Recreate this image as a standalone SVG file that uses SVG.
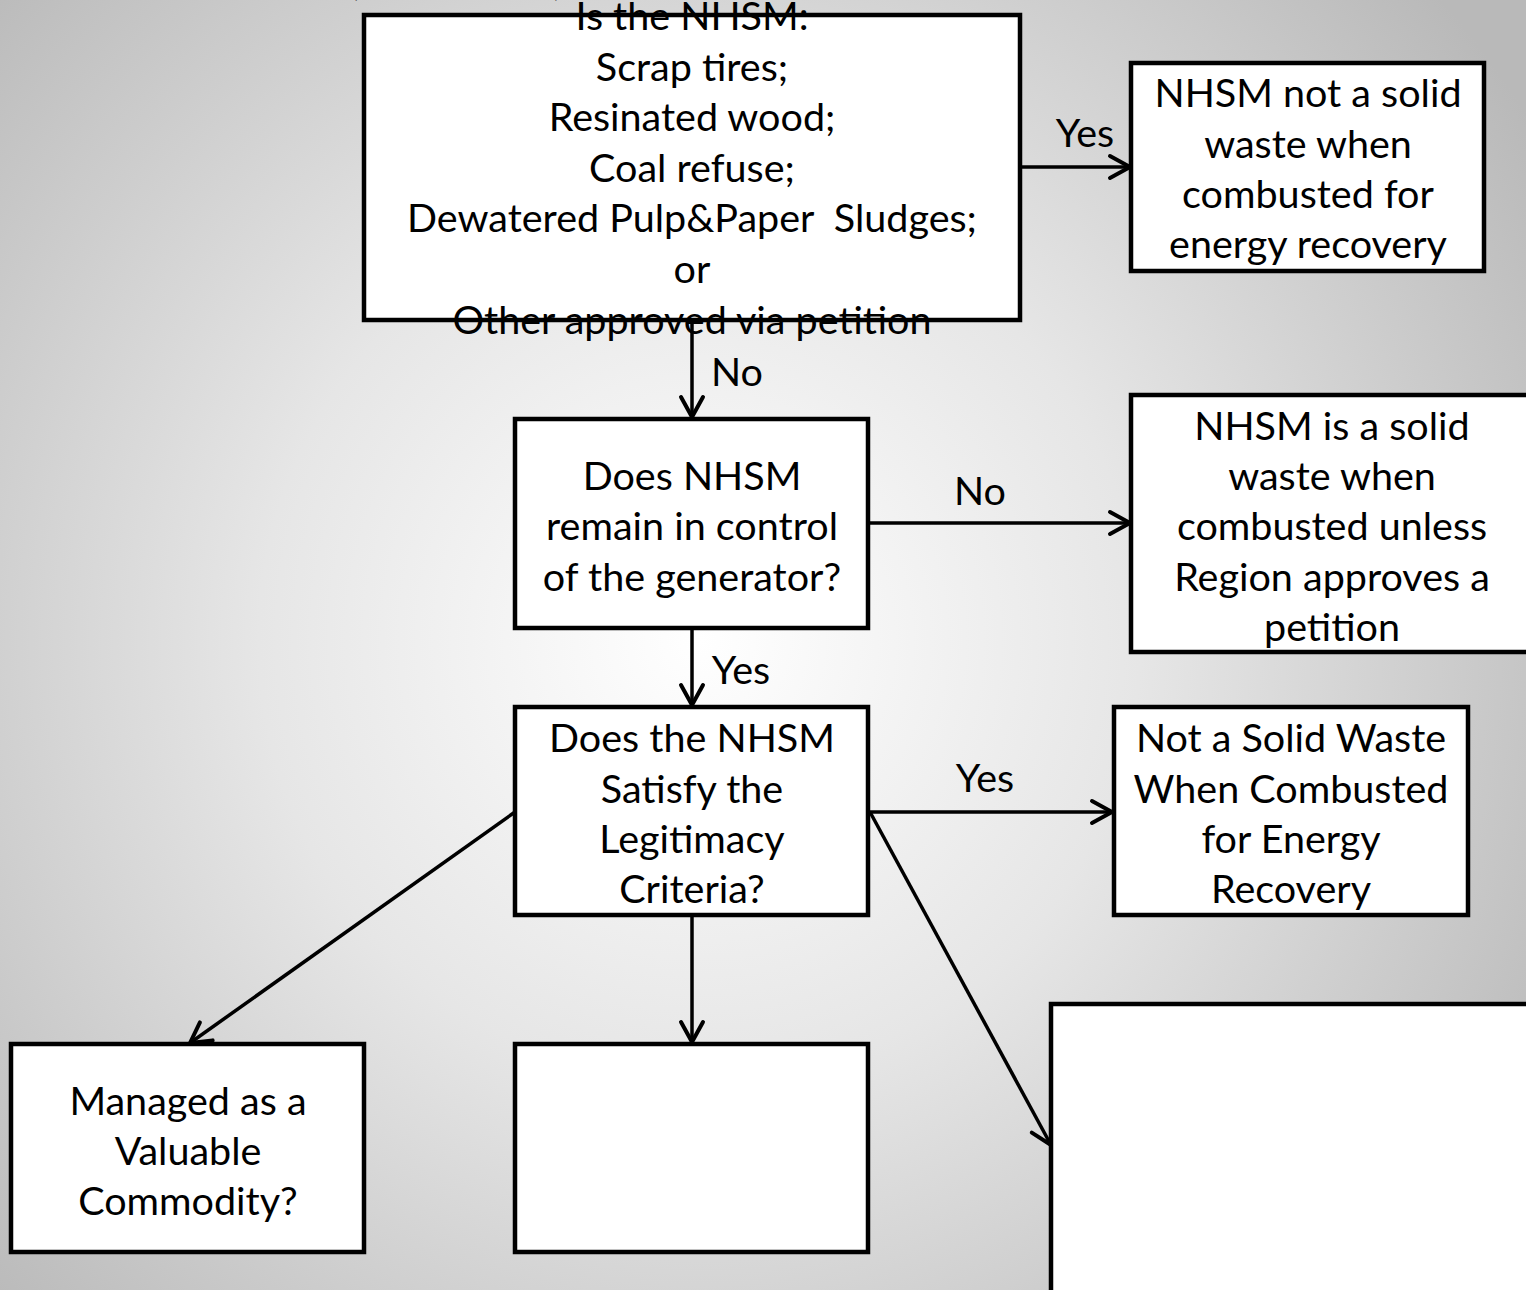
<svg xmlns="http://www.w3.org/2000/svg" width="1526" height="1290" viewBox="0 0 1526 1290">
  <defs>
    <radialGradient id="bg" gradientUnits="userSpaceOnUse" cx="700" cy="640" r="980">
      <stop offset="0" stop-color="#ffffff"/>
      <stop offset="0.45" stop-color="#e6e6e6"/>
      <stop offset="1" stop-color="#b9b9b9"/>
    </radialGradient>
    <marker id="arrow" markerUnits="userSpaceOnUse" markerWidth="30" markerHeight="30" viewBox="0 0 30 30" refX="24" refY="15" orient="auto">
      <path d="M4,4 L24,15 L4,26" fill="none" stroke="#000" stroke-width="4" stroke-linecap="round" stroke-linejoin="miter"/>
    </marker>
    <style>
      .box { fill: #ffffff; stroke: #000000; stroke-width: 4.5; }
      .t { font-family: "Lato", "Open Sans", sans-serif; font-size: 39.5px; fill: #000000; text-anchor: middle; }
      .edge { stroke: #000000; stroke-width: 3.5; fill: none; }
    </style>
  </defs>

  <rect x="0" y="0" width="1526" height="1290" fill="url(#bg)"/>

  <!-- parenthesis of a heading running off the top edge -->
  <text class="t" x="354" y="-5">(</text>
  <text class="t" x="558" y="-5">)</text>

  <g id="connectors">
    <line class="edge" x1="1020" y1="167" x2="1130" y2="167" marker-end="url(#arrow)"/>
    <line class="edge" x1="692" y1="320" x2="692" y2="417" marker-end="url(#arrow)"/>
    <line class="edge" x1="868" y1="523" x2="1130" y2="523" marker-end="url(#arrow)"/>
    <line class="edge" x1="692" y1="628" x2="692" y2="705" marker-end="url(#arrow)"/>
    <line class="edge" x1="868" y1="812" x2="1112" y2="812" marker-end="url(#arrow)"/>
    <line class="edge" x1="692" y1="915" x2="692" y2="1042" marker-end="url(#arrow)"/>
    <line class="edge" x1="515" y1="812" x2="190" y2="1043" marker-end="url(#arrow)"/>
    <line class="edge" x1="870" y1="812" x2="1051" y2="1145" marker-end="url(#arrow)"/>
    <text class="t" x="1085" y="147">Yes</text>
    <text class="t" x="737" y="386">No</text>
    <text class="t" x="980" y="505">No</text>
    <text class="t" x="741" y="684">Yes</text>
    <text class="t" x="985" y="792">Yes</text>
  </g>

  <g id="node-is-nhsm">
    <rect class="box" x="364" y="15" width="656" height="305"/>
    <text class="t" x="692" y="30">Is the NHSM:</text>
    <text class="t" x="692" y="81">Scrap tires;</text>
    <text class="t" x="692" y="131">Resinated wood;</text>
    <text class="t" x="692" y="182">Coal refuse;</text>
    <text class="t" x="692" y="232" xml:space="preserve">Dewatered Pulp&amp;Paper  Sludges;</text>
    <text class="t" x="692" y="283">or</text>
    <text class="t" x="692" y="334">Other approved via petition</text>
  </g>

  <g id="node-not-solid-waste">
    <rect class="box" x="1131" y="63" width="353" height="208"/>
    <text class="t" x="1308" y="107">NHSM not a solid</text>
    <text class="t" x="1308" y="158">waste when</text>
    <text class="t" x="1308" y="208">combusted for</text>
    <text class="t" x="1308" y="258">energy recovery</text>
  </g>

  <g id="node-control">
    <rect class="box" x="515" y="419" width="353" height="209"/>
    <text class="t" x="692" y="490">Does NHSM</text>
    <text class="t" x="692" y="540">remain in control</text>
    <text class="t" x="692" y="591">of the generator?</text>
  </g>

  <g id="node-is-solid-waste">
    <rect class="box" x="1131" y="395" width="400" height="257"/>
    <text class="t" x="1332" y="440">NHSM is a solid</text>
    <text class="t" x="1332" y="490">waste when</text>
    <text class="t" x="1332" y="540">combusted unless</text>
    <text class="t" x="1332" y="591">Region approves a</text>
    <text class="t" x="1332" y="641">petition</text>
  </g>

  <g id="node-legitimacy">
    <rect class="box" x="515" y="707" width="353" height="208"/>
    <text class="t" x="692" y="752">Does the NHSM</text>
    <text class="t" x="692" y="803">Satisfy the</text>
    <text class="t" x="692" y="853">Legitimacy</text>
    <text class="t" x="692" y="903">Criteria?</text>
  </g>

  <g id="node-not-waste-energy">
    <rect class="box" x="1114" y="707" width="354" height="208"/>
    <text class="t" x="1291" y="752">Not a Solid Waste</text>
    <text class="t" x="1291" y="803">When Combusted</text>
    <text class="t" x="1291" y="853">for Energy</text>
    <text class="t" x="1291" y="903">Recovery</text>
  </g>

  <g id="node-commodity">
    <rect class="box" x="11" y="1044" width="353" height="208"/>
    <text class="t" x="188" y="1115">Managed as a</text>
    <text class="t" x="188" y="1165">Valuable</text>
    <text class="t" x="188" y="1215">Commodity?</text>
  </g>

  <g id="node-blank-middle">
    <rect class="box" x="515" y="1044" width="353" height="208"/>
  </g>

  <g id="node-blank-right">
    <rect class="box" x="1051" y="1004" width="490" height="300"/>
  </g>
</svg>
